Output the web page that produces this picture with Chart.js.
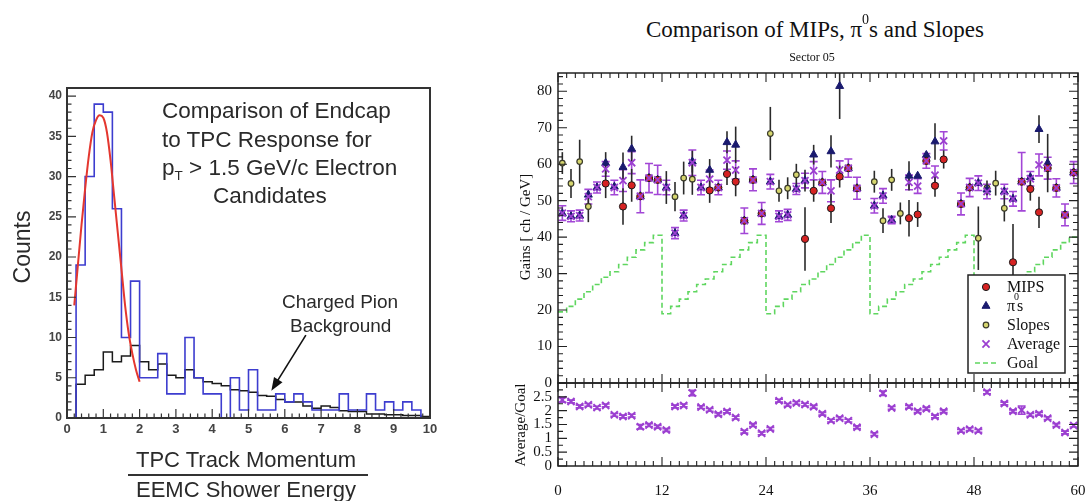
<!DOCTYPE html>
<html>
<head>
<meta charset="utf-8">
<script src="https://cdn.jsdelivr.net/npm/chart.js@4.4.1/dist/chart.umd.min.js"></script>
<style>
  body { margin: 0; width: 1086px; height: 501px; background: #fff; position: relative; overflow: hidden; }
  canvas { position: absolute; }
  .txt { position: absolute; white-space: nowrap; line-height: 1; }
  .sans { font-family: "Liberation Sans", Arial, sans-serif; color: #2a2a2a; }
  .serif { font-family: "Liberation Serif", "Times New Roman", serif; color: #111; }
  .rot { transform: rotate(-90deg); text-align: center; }
  .sub { font-size: 0.6em; position: relative; top: 0.35em; }
</style>
</head>
<body>
<canvas id="leftChart" width="460" height="501" style="left:0;top:0"></canvas>
<canvas id="gainChart" width="606" height="340" style="left:480px;top:60px"></canvas>
<canvas id="ratioChart" width="606" height="126" style="left:480px;top:375px"></canvas>

<!-- left panel text -->
<div class="txt sans" style="left:162px;top:100px;font-size:22.5px">Comparison of Endcap</div>
<div class="txt sans" style="left:162px;top:129px;font-size:22.5px">to TPC Response for</div>
<div class="txt sans" style="left:162px;top:157px;font-size:22.5px">p<span class="sub">T</span> &gt; 1.5 GeV/c Electron</div>
<div class="txt sans" style="left:213px;top:185px;font-size:22.5px">Candidates</div>
<div class="txt sans" style="left:282px;top:292px;font-size:19px">Charged Pion</div>
<div class="txt sans" style="left:290px;top:316px;font-size:19px">Background</div>
<div class="txt sans rot" style="left:-38px;top:232px;width:120px;height:30px;line-height:30px;font-size:23px">Counts</div>
<div class="txt sans" style="left:126px;top:449px;width:240px;text-align:center;font-size:22px">TPC Track Momentum</div>
<div style="position:absolute;left:128px;top:474px;width:240px;height:2px;background:#333"></div>
<div class="txt sans" style="left:126px;top:479px;width:240px;text-align:center;font-size:22px">EEMC Shower Energy</div>

<!-- right panel text -->
<div class="txt serif" style="left:565px;top:18px;width:500px;text-align:center;font-size:23px">Comparison of MIPs, &pi;<span style="font-size:14px;position:relative;top:-13px">0</span>s and Slopes</div>
<div class="txt serif" style="left:762px;top:51px;width:100px;text-align:center;font-size:12px">Sector 05</div>
<div class="txt serif rot" style="left:445px;top:217px;width:160px;height:20px;line-height:20px;font-size:15px">Gains [ ch / GeV]</div>
<div class="txt serif rot" style="left:460px;top:415px;width:120px;height:20px;line-height:20px;font-size:15px">Average/Goal</div>

<script>
// ---------- left panel: p/E histograms ----------
const binWidth = 0.25;
const electronCounts = [0, 19, 30, 39, 38, 26, 10, 17, 5, 5,
                        8, 3, 3, 10, 5, 3, 3, 0, 5, 1,
                        6, 1, 1, 3, 2, 3, 2, 1, 1, 1,
                        3, 1, 1, 3, 1, 2, 1, 2, 1, 0];
const pionCounts = [0, 4.2, 5.3, 6, 8.2, 7, 7.7, 9, 7, 6,
                    6.7, 5.3, 5, 6, 5, 4.5, 4.3, 4, 3.5, 3.4,
                    3.2, 2.8, 2.7, 2.3, 2, 2, 1.5, 1.2, 1.5, 1.3,
                    0.9, 0.8, 0.8, 0.5, 0.5, 0.4, 0.4, 0.3, 0.3, 0.2];
const fitX = [0.2, 0.3, 0.4, 0.5, 0.6, 0.7, 0.8, 0.9, 1.0, 1.1, 1.2, 1.3, 1.4, 1.5, 1.6, 1.7, 1.8, 1.9, 2.0];
const fitY = [14, 19, 24, 28.5, 32.5, 35.5, 37, 37.6, 37.3, 35.5, 32, 27.5, 23, 18.5, 14, 10.5, 8, 6, 4.5];

// ---------- right panel: sector 05 gains per channel ----------
const mipsGain = [null, null, null, null, null, 54.7, null, 48.4, 54.2, 51.2,
                  56.2, 55.7, null, null, null, null, null, 52.8, 53.6, 57.3,
                  55.2, 44.5, 55.7, 46.5, null, null, null, null, 39.5, 52.7,
                  55.0, 47.9, 56.6, 58.9, 53.4, null, null, null, null, null,
                  45.2, 46.2, 60.9, 54.1, 61.3, null, 49.1, 53.6, null, null,
                  null, null, 33.1, 55.2, 53.2, 46.8, 58.9, 53.5, 46.1, 57.7];
const mipsErr = [null, null, null, null, null, 4, null, 5, 4.5, null,
                 null, null, null, null, null, null, null, 3.4, null, 3,
                 4, null, null, null, null, null, null, null, 8.7, 3,
                 null, 4, 3, null, null, null, null, null, null, null,
                 5, 3.4, null, 3, 2.5, null, null, null, null, null,
                 null, null, 10.5, null, 3.2, 4.3, 3, null, null, null];
const pi0Gain = [46.5, 45.7, 45.9, 51.6, 53.6, 60.3, 53.8, 59.2, 64.2, 51.2,
                 56.2, 55.7, 53.6, 41.1, 45.9, 60.7, 53.6, 58.4, 53.6, 66.0,
                 65.3, 44.5, 55.7, 46.5, 55.2, 45.7, 46.1, 53.2, 55.5, 62.6,
                 55.0, 63.5, 81.4, 58.9, 53.4, null, 48.6, 51.4, 44.7, null,
                 56.8, 56.8, 62.5, 66.2, null, null, 49.1, 53.6, 54.8, 53.0,
                 null, 52.5, 50.5, 55.2, 56.4, 69.6, 60.3, 53.5, 46.1, 57.7];
const pi0Err = [null, null, null, null, null, 3, null, 4, 3.6, null,
                null, null, 4.5, null, null, 3, null, 3, null, 3,
                5, null, null, null, null, null, null, null, 3, 2.7,
                null, 4.4, 9, null, null, null, null, null, null, null,
                4, null, null, 5, null, null, null, null, null, null,
                null, null, null, null, null, 3.8, 8, null, null, null];
const slopeGain = [60.3, 54.7, 60.7, 48.4, null, null, null, null, null, null,
                   null, null, null, 51.1, 56.2, 55.9, null, null, null, null,
                   null, null, null, null, 68.4, 52.7, 53.4, 57.1, null, null,
                   null, null, null, null, null, null, 55.2, 44.5, 55.7, 46.5,
                   null, null, null, null, null, null, null, null, 39.7, 53.5,
                   54.8, 47.9, null, null, null, null, null, null, null, null];
const slopeErr = [3, 4, 6, 4.3, null, null, null, null, null, null,
                  null, null, null, 4, 4.5, 4.3, null, null, null, null,
                  null, null, null, null, 7.3, 3, 3, 3, null, null,
                  null, null, null, null, null, null, 3, 3.4, 3, 3,
                  null, null, null, null, null, null, null, null, 8.7, 2,
                  3.4, 3.6, null, null, null, null, null, null, null, null];
const avgGain = [46.6, 45.7, 45.9, 51.1, 53.6, 58.7, 53.6, 55.5, 60.4, 51.2,
                 56.2, 55.7, 53.6, 41.1, 45.9, 60.4, 53.6, 55.9, 53.6, 61.1,
                 58.4, 44.5, 55.7, 46.5, 55.2, 45.7, 46.1, 53.2, 55.5, 58.2,
                 55.0, 52.7, 58.4, 58.9, 53.4, null, 48.6, 51.3, 44.7, null,
                 55.0, 54.0, 60.9, 57.0, 66.4, null, 49.1, 53.6, 54.8, 52.5,
                 null, 52.5, 50.5, 55.2, 56.0, 59.8, 58.9, 53.5, 46.1, 57.7];
const avgErr = [2, 1.5, 1.5, 2, 1.5, 2, 2, 3, 3, 4.5,
                4, 4, 2, 1.5, 1.5, 3.5, 2, 2.5, 2, 2.5,
                2.5, 3.5, 3, 3, 2, 1.5, 1.5, 1.5, 2, 2.5,
                3, 3, 2.5, 2.5, 3, null, 2, 2, 1, null,
                2, 2, 2, 2.5, 2.5, null, 3, 2.5, 2, 2,
                null, 2, 2, 8, 2, 3, 3, 2.5, 3, 3];
const goalGain = [19.5, 21, 23, 25, 27, 29, 30.5, 32.5, 34.5, 36.5, 38.5, 40.5,
                  19, 21, 23, 25, 27, 28.5, 30.5, 32.5, 34.5, 36.5, 38.5, 40.5,
                  19, 21, 23, 25, 27, 28.5, 30.5, 32.5, 34.5, 36.5, 38.5, 40.5,
                  19, 21, 23, 25, 27, 28.5, 30.5, 32.5, 34.5, 36.5, 38.5, 40.5,
                  19, 21, 23, 25, 27, 28.5, 30.5, 32.5, 34.5, 36.5, 38.5, 40];
const ratio = [2.39, 2.33, 2.15, 2.21, 2.11, 2.19, 1.85, 1.79, 1.82, 1.42,
               1.48, 1.42, 1.3, 2.15, 2.19, 2.64, 2.13, 2.03, 1.87, 1.97,
               1.75, 1.24, 1.48, 1.18, 1.34, 2.36, 2.21, 2.28, 2.22, 2.14,
               1.89, 1.64, 1.73, 1.64, 1.4, null, 1.15, 2.63, 2.1, null,
               2.14, 1.98, 2.07, 1.79, 1.98, null, 1.27, 1.33, 1.27, 2.67,
               null, 2.26, 1.98, 2.02, 1.85, 1.89, 1.73, 1.48, 1.21, 1.46];
const ratioErr = [0.08, 0.05, 0.05, 0.05, 0.05, 0.05, 0.05, 0.05, 0.05, 0.08,
                  0.05, 0.05, 0.05, 0.05, 0.05, 0.1, 0.05, 0.05, 0.05, 0.05,
                  0.05, 0.05, 0.05, 0.05, 0.05, 0.05, 0.05, 0.05, 0.05, 0.05,
                  0.05, 0.05, 0.05, 0.05, 0.05, null, 0.05, 0.08, 0.05, null,
                  0.05, 0.05, 0.05, 0.05, 0.05, null, 0.05, 0.05, 0.05, 0.06,
                  null, 0.05, 0.05, 0.15, 0.05, 0.05, 0.05, 0.05, 0.05, 0.05];

const serif = '"Liberation Serif", "Times New Roman", serif';
const sans = '"Liberation Sans", Arial, sans-serif';

// channel i is drawn in the middle of its bin
const toPoints = vals => vals.map((v, i) => ({ x: i + 0.5, y: v }));
// histogram outline: one point per bin edge (stepped 'before' = flat across the bin)
const toSteps = (counts, w) => counts.map((c, k) => ({ x: k * w, y: c }))
  .concat([{ x: counts.length * w, y: counts[counts.length - 1] }]);

// vertical error bars, drawn under the markers
const errorBars = {
  id: 'errorBars',
  beforeDatasetsDraw(chart) {
    const { ctx, chartArea: a } = chart;
    ctx.save();
    ctx.beginPath();
    ctx.rect(a.left, a.top, a.width, a.height);
    ctx.clip();
    chart.data.datasets.forEach((ds, di) => {
      if (!ds.errors) return;
      const meta = chart.getDatasetMeta(di);
      const ys = chart.scales[meta.yAxisID];
      ctx.strokeStyle = ds.errorColor;
      ctx.lineWidth = ds.errorWidth;
      meta.data.forEach((pt, i) => {
        const v = ds.data[i].y, e = ds.errors[i];
        if (v == null || e == null) return;
        const top = ys.getPixelForValue(v + e), bot = ys.getPixelForValue(v - e);
        ctx.beginPath();
        ctx.moveTo(pt.x, top);
        ctx.lineTo(pt.x, bot);
        if (ds.capWidth) {
          ctx.moveTo(pt.x - ds.capWidth, top); ctx.lineTo(pt.x + ds.capWidth, top);
          ctx.moveTo(pt.x - ds.capWidth, bot); ctx.lineTo(pt.x + ds.capWidth, bot);
        }
        ctx.stroke();
      });
    });
    ctx.restore();
  }
};

// box around the plot with inward ticks
function frameTicks(o) {
  return {
    id: 'frameTicks',
    afterDraw(chart) {
      const { ctx, chartArea: a, scales } = chart;
      const xs = scales.x, ys = scales.y;
      const marks = (min, max, step, fn) => {
        for (let k = 0; ; k++) {
          const v = min + k * step;
          if (v > max + 1e-6) break;
          fn(v);
        }
      };
      const isMajor = (v, m) => Math.abs(v / m - Math.round(v / m)) < 1e-6;
      ctx.save();
      ctx.strokeStyle = o.color;
      ctx.lineWidth = o.tickWidth;
      ctx.beginPath();
      o.xSides.forEach(side => {
        const y0 = side === 'bottom' ? a.bottom : a.top;
        const dir = side === 'bottom' ? -1 : 1;
        marks(xs.min, xs.max, o.xMinor, v => {
          const len = isMajor(v, o.xMajor) ? o.majorLen : o.minorLen;
          const px = xs.getPixelForValue(v);
          ctx.moveTo(px, y0);
          ctx.lineTo(px, y0 + dir * len);
        });
      });
      o.ySides.forEach(side => {
        const x0 = side === 'left' ? a.left : a.right;
        const dir = side === 'left' ? 1 : -1;
        marks(ys.min, ys.max, o.yMinor, v => {
          const len = isMajor(v, o.yMajor) ? o.majorLen : o.minorLen;
          const py = ys.getPixelForValue(v);
          ctx.moveTo(x0, py);
          ctx.lineTo(x0 + dir * len, py);
        });
      });
      ctx.stroke();
      ctx.lineWidth = o.frameWidth;
      ctx.strokeRect(a.left, a.top, a.width, a.height);
      ctx.restore();
    }
  };
}

// arrow pointing at the pion histogram
const pionArrow = {
  id: 'pionArrow',
  afterDatasetsDraw(chart) {
    const { ctx, scales: { x, y } } = chart;
    const x1 = x.getPixelForValue(6.58), y1 = y.getPixelForValue(10.3);
    const x2 = x.getPixelForValue(5.63), y2 = y.getPixelForValue(3.4);
    const ang = Math.atan2(y2 - y1, x2 - x1);
    ctx.save();
    ctx.strokeStyle = '#111';
    ctx.fillStyle = '#111';
    ctx.lineWidth = 1.6;
    ctx.beginPath();
    ctx.moveTo(x1, y1);
    ctx.lineTo(x2 - 8 * Math.cos(ang), y2 - 8 * Math.sin(ang));
    ctx.stroke();
    ctx.beginPath();
    ctx.moveTo(x2, y2);
    ctx.lineTo(x2 - 13 * Math.cos(ang) + 5 * Math.sin(ang), y2 - 13 * Math.sin(ang) - 5 * Math.cos(ang));
    ctx.lineTo(x2 - 13 * Math.cos(ang) - 5 * Math.sin(ang), y2 - 13 * Math.sin(ang) + 5 * Math.cos(ang));
    ctx.closePath();
    ctx.fill();
    ctx.restore();
  }
};

function drawMarker(ctx, ds, x, y) {
  const r = ds.pointRadius;
  ctx.save();
  ctx.fillStyle = ds.backgroundColor;
  ctx.strokeStyle = ds.borderColor;
  ctx.lineWidth = ds.borderWidth;
  ctx.beginPath();
  if (ds.pointStyle === 'circle') {
    ctx.arc(x, y, r, 0, Math.PI * 2);
    ctx.fill(); ctx.stroke();
  } else if (ds.pointStyle === 'triangle') {
    ctx.moveTo(x, y - r);
    ctx.lineTo(x + r * 0.866, y + r * 0.5);
    ctx.lineTo(x - r * 0.866, y + r * 0.5);
    ctx.closePath();
    ctx.fill(); ctx.stroke();
  } else if (ds.pointStyle === 'crossRot') {
    const d = r * 0.707;
    ctx.moveTo(x - d, y - d); ctx.lineTo(x + d, y + d);
    ctx.moveTo(x + d, y - d); ctx.lineTo(x - d, y + d);
    ctx.stroke();
  }
  ctx.restore();
}

const legendOrder = ['MIPS', 'π0s', 'Slopes', 'Average', 'Goal'];
const gainLegend = {
  id: 'gainLegend',
  afterDraw(chart) {
    const { ctx, chartArea: a } = chart;
    const w = 97, h = 98;
    const left = a.right - 13 - w, top = a.bottom - 10 - h;
    ctx.save();
    ctx.fillStyle = '#fff';
    ctx.fillRect(left, top, w, h);
    ctx.strokeStyle = '#222';
    ctx.lineWidth = 1.5;
    ctx.strokeRect(left, top, w, h);
    legendOrder.forEach((name, i) => {
      const ds = chart.data.datasets.find(d => d.label === name);
      const cy = top + 12 + 19 * i;
      if (ds.showLine) {
        ctx.strokeStyle = ds.borderColor;
        ctx.lineWidth = ds.borderWidth;
        ctx.setLineDash(ds.borderDash);
        ctx.beginPath();
        ctx.moveTo(left + 7, cy);
        ctx.lineTo(left + 30, cy);
        ctx.stroke();
        ctx.setLineDash([]);
      } else {
        drawMarker(ctx, ds, left + 18, cy);
      }
      ctx.fillStyle = '#111';
      ctx.font = '16px ' + serif;
      const tx = left + 39, base = cy + 5;
      if (name === 'π0s') {
        ctx.fillText('π', tx, base);
        const pw = ctx.measureText('π').width;
        ctx.fillText('s', tx + pw + 2, base);
        ctx.font = '10px ' + serif;
        ctx.fillText('0', tx + pw - 1, base - 11);
      } else {
        ctx.fillText(name, tx, base);
      }
    });
    ctx.restore();
  }
};

const noGrid = { display: false, drawTicks: false };
const noPad = s => { s.paddingLeft = 0; s.paddingRight = 0; s.paddingTop = 0; s.paddingBottom = 0; };
const baseOptions = {
  responsive: false,
  animation: false,
  devicePixelRatio: 1,
  events: [],
  plugins: { legend: { display: false }, tooltip: { enabled: false } }
};

// ---------- left chart ----------
new Chart(document.getElementById('leftChart'), {
  type: 'scatter',
  data: {
    datasets: [
      { label: 'Gaussian fit', data: fitX.map((x, i) => ({ x, y: fitY[i] })), showLine: true,
        borderColor: '#e4372f', borderWidth: 2, pointRadius: 0, cubicInterpolationMode: 'monotone' },
      { label: 'Electron candidates', data: toSteps(electronCounts, binWidth), showLine: true, stepped: 'before',
        borderColor: '#3d3dcf', borderWidth: 1.6, pointRadius: 0 },
      { label: 'Charged pion background', data: toSteps(pionCounts, binWidth), showLine: true, stepped: 'before',
        borderColor: '#1b1b1b', borderWidth: 1.5, pointRadius: 0 }
    ]
  },
  options: {
    ...baseOptions,
    layout: { padding: { top: 88, right: 30, left: 0, bottom: 0 } },
    scales: {
      x: {
        type: 'linear', min: 0, max: 10, grid: noGrid, border: { display: false },
        ticks: { stepSize: 1, padding: 4, autoSkip: false, maxRotation: 0, color: '#444',
                 font: { family: sans, size: 13, weight: 'bold' } },
        afterFit(s) { s.height = 83; noPad(s); }
      },
      y: {
        min: 0, max: 41, grid: noGrid, border: { display: false },
        ticks: { stepSize: 5, includeBounds: false, autoSkip: false, padding: 5, color: '#444',
                 font: { family: sans, size: 12, weight: 'bold' } },
        afterFit(s) { s.width = 67; noPad(s); }
      }
    }
  },
  plugins: [pionArrow, frameTicks({ color: '#333', tickWidth: 1.2, frameWidth: 2, majorLen: 9, minorLen: 4.5,
    xSides: ['bottom'], xMajor: 1, xMinor: 0.2, ySides: ['left'], yMajor: 5, yMinor: 1 })]
});

// ---------- right top: gains ----------
const markerBase = { showLine: false, errorWidth: 1.6 };
new Chart(document.getElementById('gainChart'), {
  type: 'scatter',
  data: {
    datasets: [
      { ...markerBase, label: 'Average', data: toPoints(avgGain), errors: avgErr, errorColor: '#a246d6', capWidth: 4,
        pointStyle: 'crossRot', pointRadius: 5, borderColor: '#9b3fd0', backgroundColor: '#9b3fd0', borderWidth: 1.8 },
      { ...markerBase, label: 'MIPS', data: toPoints(mipsGain), errors: mipsErr, errorColor: '#2a2a2a',
        pointStyle: 'circle', pointRadius: 3.6, backgroundColor: '#d62222', borderColor: '#1a1a1a', borderWidth: 1 },
      { ...markerBase, label: 'π0s', data: toPoints(pi0Gain), errors: pi0Err, errorColor: '#2a2a2a',
        pointStyle: 'triangle', pointRadius: 4.6, backgroundColor: '#1a1a6e', borderColor: '#1a1a6e', borderWidth: 1 },
      { ...markerBase, label: 'Slopes', data: toPoints(slopeGain), errors: slopeErr, errorColor: '#2a2a2a',
        pointStyle: 'circle', pointRadius: 2.8, backgroundColor: '#d6d66e', borderColor: '#3a3a2a', borderWidth: 1.2 },
      { label: 'Goal', data: goalGain.map((g, i) => ({ x: i, y: g })).concat([{ x: goalGain.length, y: goalGain[goalGain.length - 1] }]),
        showLine: true, stepped: 'before', borderColor: '#5fd65f', borderWidth: 1.6, borderDash: [5, 3], pointRadius: 0 }
    ]
  },
  options: {
    ...baseOptions,
    layout: { padding: { top: 13, right: 8, left: 0, bottom: 17 } },
    scales: {
      x: { type: 'linear', min: 0, max: 60, display: false, afterFit(s) { noPad(s); } },
      y: {
        min: 0, max: 85, grid: noGrid, border: { display: false },
        ticks: { stepSize: 10, includeBounds: false, autoSkip: false, padding: 6, color: '#111', font: { family: serif, size: 15 } },
        afterFit(s) { s.width = 78; noPad(s); }
      }
    }
  },
  plugins: [errorBars, gainLegend, frameTicks({ color: '#222', tickWidth: 1.1, frameWidth: 1.5, majorLen: 9, minorLen: 5,
    xSides: ['top', 'bottom'], xMajor: 12, xMinor: 1, ySides: ['left', 'right'], yMajor: 10, yMinor: 2 })]
});

// ---------- right bottom: average / goal ----------
new Chart(document.getElementById('ratioChart'), {
  type: 'scatter',
  data: {
    datasets: [
      { showLine: false, label: 'Average/Goal', data: toPoints(ratio), errors: ratioErr, errorColor: '#a246d6',
        errorWidth: 1.6, capWidth: 4, pointStyle: 'crossRot', pointRadius: 5, borderColor: '#9b3fd0', borderWidth: 2 }
    ]
  },
  options: {
    ...baseOptions,
    layout: { padding: { top: 8, right: 8, left: 0, bottom: 0 } },
    scales: {
      x: {
        type: 'linear', min: 0, max: 60, grid: noGrid, border: { display: false },
        ticks: { stepSize: 12, padding: 16, autoSkip: false, maxRotation: 0, color: '#111', font: { family: serif, size: 15 } },
        afterFit(s) { s.height = 35; noPad(s); }
      },
      y: {
        min: 0, max: 3, grid: noGrid, border: { display: false },
        ticks: { stepSize: 0.5, autoSkip: false, padding: 6, color: '#111', font: { family: serif, size: 15 },
                 callback: v => (v >= 3 ? '' : String(v)) },
        afterFit(s) { s.width = 78; noPad(s); }
      }
    }
  },
  plugins: [errorBars, frameTicks({ color: '#222', tickWidth: 1.1, frameWidth: 1.5, majorLen: 9, minorLen: 5,
    xSides: ['top', 'bottom'], xMajor: 12, xMinor: 1, ySides: ['left', 'right'], yMajor: 0.5, yMinor: 0.25 })]
});
</script>
</body>
</html>
